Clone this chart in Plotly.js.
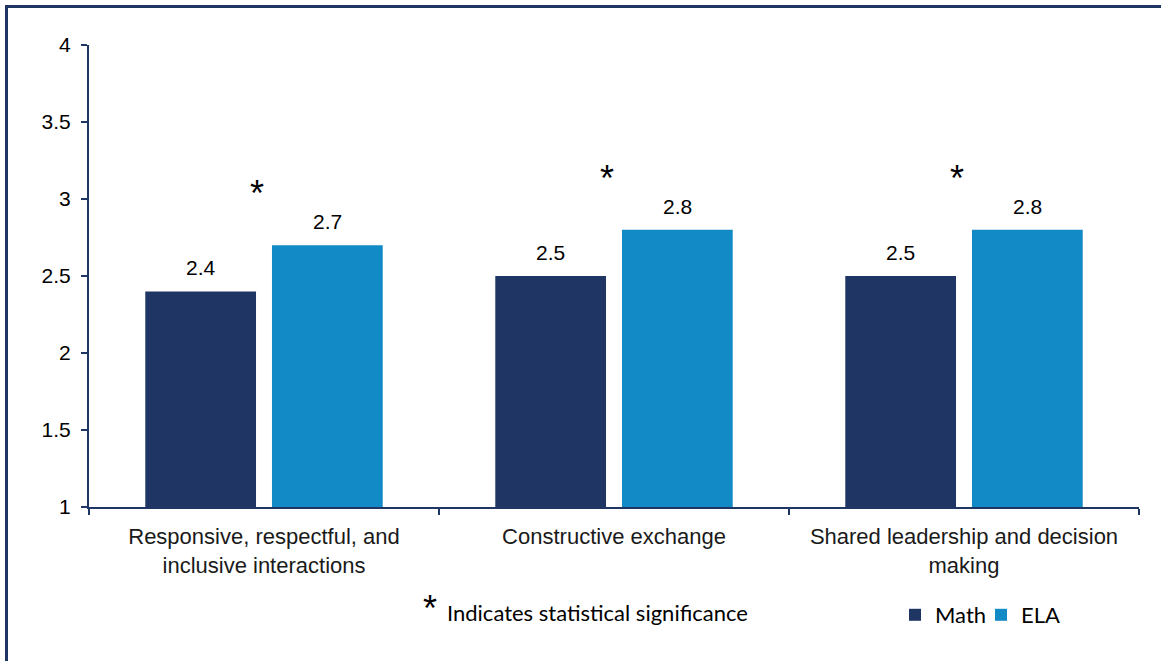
<!DOCTYPE html>
<html>
<head>
<meta charset="utf-8">
<script src="https://cdn.plot.ly/plotly-3.0.1.min.js"></script>
<style>
  html, body { margin: 0; padding: 0; overflow: hidden; background: #fff; }
  #chart { width: 1161px; height: 661px; position: absolute; left: 0; top: 0; }
  #frame { position: absolute; left: 5px; top: 5px; width: 1300px; height: 800px;
           border-top: 3px solid #1F3564; border-left: 3px solid #1F3564; pointer-events: none; }
</style>
</head>
<body>
<div id="chart"></div>
<div id="frame"></div>
<script>
const categories = [
  "Responsive, respectful, and<br>inclusive interactions",
  "Constructive exchange",
  "Shared leadership and decision<br>making"
];
const mathValues = [2.4, 2.5, 2.5];
const elaValues = [2.7, 2.8, 2.8];
const significant = [true, true, true];
const seriesNames = ["Math", "ELA"];
const yTicks = [1, 1.5, 2, 2.5, 3, 3.5, 4];
const footnoteText = "Indicates statistical significance";

const mathColor = "#1F3564";
const elaColor = "#118AC6";
const axisColor = "#1F3564";
const labelFont = { family: "Liberation Sans, Arial, sans-serif", size: 21, color: "#000" };

const traces = [
  { type: "bar", name: seriesNames[0], x: categories, y: mathValues,
    marker: { color: mathColor }, hoverinfo: "none" },
  { type: "bar", name: seriesNames[1], x: categories, y: elaValues,
    marker: { color: elaColor }, hoverinfo: "none" }
];

const annotations = [];
categories.forEach((c, i) => {
  annotations.push({ x: c, y: mathValues[i], xref: "x", yref: "y", text: String(mathValues[i]),
    showarrow: false, xshift: -63.5, yanchor: "bottom", yshift: 10, font: labelFont });
  annotations.push({ x: c, y: elaValues[i], xref: "x", yref: "y", text: String(elaValues[i]),
    showarrow: false, xshift: 63.5, yanchor: "bottom", yshift: 10, font: labelFont });
  if (significant[i]) {
    annotations.push({ x: c, y: elaValues[i], xref: "x", yref: "y", text: "*",
      showarrow: false, xshift: -7, yanchor: "bottom", yshift: 29,
      font: { family: "Liberation Sans, Arial, sans-serif", size: 36, color: "#000" } });
  }
});
annotations.push({ x: (430 - 89) / 1050, y: (507 - 608) / 462, xref: "paper", yref: "paper",
  text: "*", showarrow: false, xanchor: "center", yanchor: "middle",
  font: { family: "Liberation Sans, Arial, sans-serif", size: 36, color: "#000" } });
annotations.push({ x: (445 - 89) / 1050, y: (507 - 612) / 462, xref: "paper", yref: "paper",
  text: footnoteText, showarrow: false, xanchor: "left", yanchor: "middle",
  font: { family: "Lato, sans-serif", size: 22, color: "#000" } });

const layout = {
  width: 1161, height: 661,
  margin: { l: 89, r: 22, t: 45, b: 154 },
  paper_bgcolor: "#fff", plot_bgcolor: "#fff",
  barmode: "group", bargap: 0.276, bargroupgap: 0.126,
  showlegend: true,
  legend: { orientation: "h", x: (895 - 89) / 1050, y: (507 - 615) / 462, xanchor: "left", yanchor: "middle",
    font: { family: "Lato, sans-serif", size: 22, color: "#000" }, bgcolor: "rgba(0,0,0,0)",
    itemwidth: 30, entrywidth: 41, entrywidthmode: "pixels" },
  xaxis: {
    type: "category", showline: true, linecolor: axisColor, linewidth: 2,
    ticks: "outside", tickson: "boundaries", ticklen: 6, tickwidth: 2, tickcolor: axisColor,
    showgrid: false, zeroline: false, fixedrange: true, ticklabelstandoff: 9,
    tickfont: { family: "Liberation Sans, Arial, sans-serif", size: 22, color: "#1a1a1a" }
  },
  yaxis: {
    range: [1, 4], tickvals: yTicks, ticktext: yTicks.map(String),
    showline: true, linecolor: axisColor, linewidth: 2,
    ticks: "outside", ticklen: 6, tickwidth: 2, tickcolor: axisColor,
    showgrid: false, zeroline: false, fixedrange: true, ticklabelstandoff: 6,
    tickfont: { family: "Liberation Sans, Arial, sans-serif", size: 21, color: "#000" }
  },
  annotations: annotations
};

Plotly.newPlot("chart", traces, layout, { displayModeBar: false, staticPlot: true });
</script>
</body>
</html>
